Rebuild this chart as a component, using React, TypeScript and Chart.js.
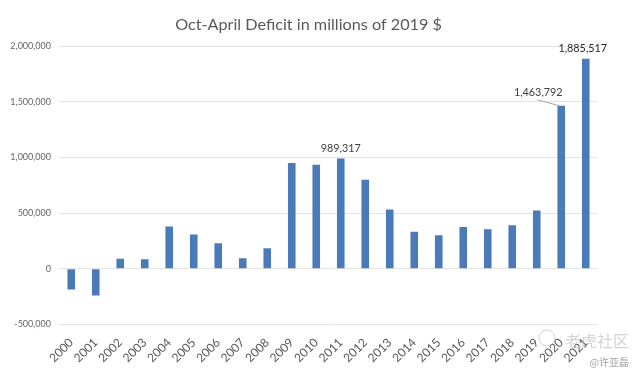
import React, { useEffect, useRef } from "react";
import { Chart, registerables } from "chart.js";

Chart.register(...registerables);

const years = ["2000","2001","2002","2003","2004","2005","2006","2007","2008","2009","2010","2011","2012","2013","2014","2015","2016","2017","2018","2019","2020","2021"];
const deficit = [-185000,-240000,90000,85000,380000,308000,230000,95000,185000,950000,935000,989317,800000,532000,332000,302000,375000,356000,392000,524000,1463792,1885517];
const labelled = [
  { year: "2011", text: "989,317", dx: 0, dy: -7, color: "#404040" },
  { year: "2020", text: "1,463,792", dx: -23, dy: -10, color: "#404040" },
  { year: "2021", text: "1,885,517", dx: -3, dy: -7, color: "#262626" },
];
const chartTitle = "Oct-April Deficit in millions of 2019 $";
const watermarkMain = "老虎社区";
const watermarkSub = "@许亚磊";

const annotate = {
  id: "annotate",
  afterDatasetsDraw(chart: any) {
    const { ctx, scales } = chart;
    const x = scales.x, y = scales.y;
    ctx.save();
    const i2020 = years.indexOf("2020");
    const px = x.getPixelForValue(i2020), py = y.getPixelForValue(deficit[i2020]);
    ctx.strokeStyle = "#a6a6a6";
    ctx.lineWidth = 1;
    ctx.beginPath();
    ctx.moveTo(px - 24, py - 6);
    ctx.lineTo(px - 2, py);
    ctx.stroke();
    ctx.textAlign = "center";
    ctx.textBaseline = "alphabetic";
    labelled.forEach((l) => {
      const i = years.indexOf(l.year);
      ctx.font = `10.8px Lato, sans-serif`;
      ctx.fillStyle = l.color;
      ctx.fillText(l.text, x.getPixelForValue(i) + l.dx, y.getPixelForValue(deficit[i]) + l.dy);
    });
    ctx.restore();
  },
  afterDraw(chart: any) {
    const { ctx } = chart;
    ctx.save();
    ctx.textBaseline = "alphabetic";
    ctx.textAlign = "center";
    ctx.font = `16.2px Lato, sans-serif`;
    ctx.fillStyle = "#595959";
    ctx.fillText(chartTitle, 308.5, 30);
    ctx.textAlign = "right";
    ctx.font = `16px "Noto Sans CJK SC", sans-serif`;
    ctx.fillStyle = "rgba(170,170,170,0.5)";
    ctx.fillText(watermarkMain, 629, 347);
    ctx.font = `10px "Noto Sans CJK SC", sans-serif`;
    ctx.fillStyle = "rgba(140,140,140,0.8)";
    ctx.fillText(watermarkSub, 629, 366);
    ctx.beginPath();
    ctx.strokeStyle = "rgba(170,170,170,0.5)";
    ctx.arc(547, 338, 8, 0, Math.PI * 2);
    ctx.stroke();
    ctx.restore();
  },
};

export default function App() {
  const ref = useRef<HTMLCanvasElement | null>(null);
  useEffect(() => {
    const chart = new Chart(ref.current as HTMLCanvasElement, {
      type: "bar",
      data: {
        labels: years,
        datasets: [{ data: deficit, backgroundColor: "#4a7ab8", barPercentage: 0.31, categoryPercentage: 1 }],
      },
      options: {
        responsive: false,
        animation: false,
        layout: { padding: { left: 0, right: 42, top: 46, bottom: 0 } },
        plugins: {
          legend: { display: false },
          tooltip: { enabled: false },
          title: { display: false },
        },
        scales: {
          x: {
            grid: { display: false, drawTicks: false },
            border: { display: false },
            ticks: { color: "#595959", font: { family: "Lato", size: 12 }, minRotation: 45, maxRotation: 45, autoSkip: false, padding: 11 },
            afterFit(s: any) { s.height = 51.5; },
          },
          y: {
            min: -500000,
            max: 2000000,
            grid: { color: "#e4e4e4", drawTicks: false, lineWidth: 1 },
            border: { display: false },
            ticks: {
              stepSize: 500000,
              color: "#666666",
              padding: 8,
              font: { family: "Lato", size: 9 },
              callback: (v: any) => Number(v).toLocaleString("en-US"),
            },
            afterFit(s: any) { s.width = 59; },
          },
        },
      },
      plugins: [annotate],
    } as any);
    return () => chart.destroy();
  }, []);
  return (
    <div style={{ position: "absolute", left: 0, top: 0, width: 640, height: 376, background: "#fff" }}>
      <canvas ref={ref} width={640} height={376} style={{ display: "block" }} />
    </div>
  );
}
